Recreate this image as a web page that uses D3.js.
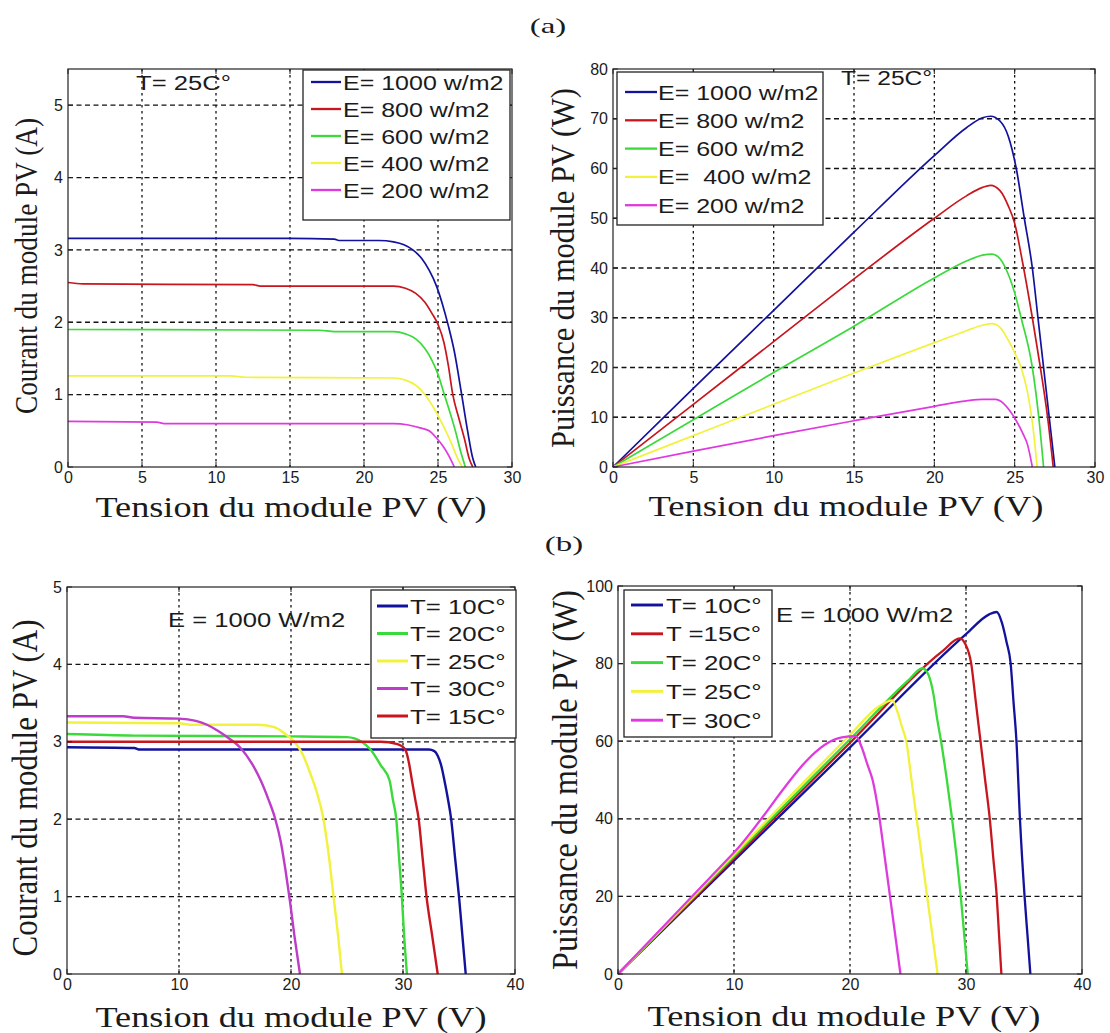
<!DOCTYPE html>
<html>
<head>
<meta charset="utf-8">
<script src="https://cdn.jsdelivr.net/npm/d3@7"></script>
<style>
  body { margin: 0; background: #fff; }
  svg text { fill: #1b1b1b; }
  .tick text { font-family: "Liberation Sans", Arial, sans-serif; font-size: 16px; }
</style>
</head>
<body>
<div id="chart"></div>
<script>
// ---------- data ----------
var panelLabels = ["(a)", "(b)"];
var xTitle = "Tension du module PV (V)";

// (a) left: I-V at T = 25 C, five irradiances  [V, I]
var iv1000 = [[0,3.16],[5,3.16],[10,3.16],[15,3.16],[18,3.15],[18.3,3.13],[21,3.13],[22,3.11],[22.7,3.07],[23.3,3.0],[23.9,2.88],[24.4,2.72],[24.9,2.5],[25.3,2.25],[25.7,1.95],[26.1,1.6],[26.6,1.0],[27.0,0.5],[27.35,0.12],[27.55,0]];
var iv800  = [[0,2.55],[1,2.53],[12.5,2.52],[13,2.5],[22,2.5],[22.8,2.47],[23.5,2.4],[24.1,2.28],[24.6,2.12],[25.0,1.97],[25.4,1.72],[25.7,1.4],[26.0,1.0],[26.4,0.68],[26.8,0.38],[27.1,0.12],[27.35,0]];
var iv600  = [[0,1.9],[17,1.89],[18,1.87],[22,1.87],[22.8,1.84],[23.5,1.77],[24.1,1.64],[24.6,1.47],[25.0,1.28],[25.4,1.02],[25.8,0.76],[26.2,0.48],[26.55,0.2],[26.85,0]];
var iv400  = [[0,1.26],[11,1.26],[12,1.24],[22,1.23],[22.8,1.2],[23.5,1.13],[24.0,1.03],[24.4,0.92],[24.9,0.75],[25.4,0.55],[25.9,0.33],[26.3,0.13],[26.65,0]];
var iv200  = [[0,0.63],[6,0.62],[6.5,0.6],[22,0.6],[23,0.58],[23.8,0.54],[24.4,0.5],[24.9,0.4],[25.4,0.27],[25.8,0.13],[26.1,0]];

// (a) right: P-V at T = 25 C  [V, P]
var pv1000 = [[0,0],[5,15.8],[10,31.5],[15,47.2],[20,62.6],[22,68.2],[23,70.2],[23.5,70.5],[24.1,69.5],[24.6,66.5],[25.1,60],[25.6,50],[26.1,40],[26.45,30],[26.8,20],[27.15,10],[27.5,0]];
var pv800  = [[0,0],[5,12.6],[10,25.2],[15,37.8],[20,50],[22,54.5],[23,56.2],[23.5,56.6],[24.1,55.5],[24.6,52.5],[25.0,49],[25.5,41],[26.1,30],[26.6,20],[27.05,10],[27.4,0]];
var pv600  = [[0,0],[5,9.5],[10,19],[15,28.3],[20,38],[22,41.4],[23,42.6],[23.6,42.8],[24.1,41.8],[24.5,39.5],[25.0,35],[25.4,30],[26.1,20],[26.5,10],[26.8,0]];
var pv400  = [[0,0],[5,6.3],[10,12.6],[15,18.9],[20,25],[22,27.4],[23,28.5],[23.6,28.8],[24.1,28],[24.6,25.5],[25.0,23],[25.4,20],[25.8,15],[26.1,9],[26.4,0]];
var pv200  = [[0,0],[5,3.2],[10,6.3],[15,9.3],[20,12.2],[22,13.3],[23,13.6],[23.8,13.6],[24.3,12.8],[24.7,11.3],[25.1,9.3],[25.5,6.8],[25.8,4.5],[26.1,0]];

// (b) left: I-V at E = 1000 W/m2, five temperatures
var iv10 = [[0,2.93],[6,2.92],[6.5,2.9],[32.3,2.9],[32.8,2.88],[33.1,2.82],[33.4,2.7],[33.7,2.5],[34.0,2.27],[34.3,2.0],[34.65,1.5],[35.0,1.0],[35.3,0.5],[35.6,0]];
var iv15 = [[0,3.0],[20,3.0],[28,3.0],[29.5,2.97],[30.2,2.9],[30.5,2.75],[30.8,2.5],[31.1,2.25],[31.4,2.0],[31.75,1.5],[32.1,1.0],[32.6,0.5],[33.1,0]];
var iv20 = [[0,3.1],[6,3.08],[20,3.07],[25,3.06],[26.3,3.0],[27.1,2.9],[28.0,2.7],[28.8,2.5],[29.1,2.25],[29.4,2.0],[29.65,1.5],[29.9,1.0],[30.1,0.5],[30.35,0]];
var iv25 = [[0,3.25],[10,3.24],[11,3.22],[17,3.22],[18.5,3.19],[19.5,3.1],[20.3,3.0],[21.0,2.85],[21.7,2.6],[22.3,2.35],[22.9,2.0],[23.4,1.5],[23.8,1.0],[24.2,0.5],[24.55,0]];
var iv30 = [[0,3.33],[5,3.33],[6,3.31],[10,3.3],[11.5,3.27],[12.5,3.22],[13.5,3.14],[14.5,3.04],[15.5,2.92],[16.5,2.72],[17.3,2.5],[18.0,2.25],[18.6,2.0],[19.1,1.7],[19.5,1.35],[19.9,0.95],[20.3,0.5],[20.6,0.2],[20.8,0]];

// (b) right: P-V at E = 1000 W/m2
var pv10 = [[0,0],[10,29.2],[20,58.4],[30,87.6],[32,92.7],[32.65,93.3],[33.1,90.5],[33.5,85.5],[33.85,80],[34.1,70],[34.35,60],[34.65,40],[35.05,20],[35.3,10],[35.55,0]];
var pv15 = [[0,0],[10,29.8],[20,59.6],[28,83.3],[29.45,86.5],[29.95,85],[30.45,80],[30.85,70],[31.25,60],[31.65,50],[32.05,40],[32.35,30],[32.65,20],[32.85,10],[33.05,0]];
var pv20 = [[0,0],[10,30.3],[20,60.5],[25,75.6],[26.25,78.8],[26.75,77.2],[27.2,72],[27.5,66],[27.85,60],[28.35,50],[28.8,40],[29.2,30],[29.55,20],[29.85,10],[30.15,0]];
var pv25 = [[0,0],[10,30.8],[20,61.6],[22.5,69],[23.65,70.5],[24.1,67.5],[24.5,63.5],[24.85,60],[25.3,50],[25.75,40],[26.2,30],[26.65,20],[27.1,10],[27.55,0]];
var pv30 = [[0,0],[10,31.3],[19.3,61],[20.5,61.3],[21.0,58.5],[21.5,54],[21.95,50],[22.55,40],[23.0,30],[23.45,20],[23.9,10],[24.35,0]];

// legends and annotations
var irrLabelsIV = ["E= 1000 w/m2", "E= 800 w/m2", "E= 600 w/m2", "E= 400 w/m2", "E= 200 w/m2"];
var irrLabelsPV = ["E= 1000 w/m2", "E= 800 w/m2", "E= 600 w/m2", "E=  400 w/m2", "E= 200 w/m2"];
var tempLabelsIV = ["T= 10C°", "T= 20C°", "T= 25C°", "T= 30C°", "T= 15C°"];
var tempLabelsPV = ["T= 10C°", "T =15C°", "T= 20C°", "T= 25C°", "T= 30C°"];
var tNote = "T= 25C°";
var eNote = "E = 1000 W/m2";

// tick values
var xTicks30 = [0, 5, 10, 15, 20, 25, 30];
var xTicks40 = [0, 10, 20, 30, 40];
var yTicksA5 = [0, 1, 2, 3, 4, 5];
var yTicksW80 = [0, 10, 20, 30, 40, 50, 60, 70, 80];
var yTicksW100 = [0, 20, 40, 60, 80, 100];

// colours
var cBlue = "#12129c", cRed = "#c8161e", cGreen = "#3ada3a", cYellow = "#f2f23e", cMag = "#df3adf", cPurple = "#bd3cc8";

// ---------- drawing ----------
var svg = d3.select("#chart").append("svg")
  .attr("width", 1110)
  .attr("height", 1033)
  .style("background", "#fff");

var sans = '"Liberation Sans", Arial, sans-serif';
var serif = '"Liberation Serif", "Times New Roman", serif';

// text stretched horizontally like the scanned figure
function wideText(parent, x, y, str, size, sx, family, anchor) {
  return parent.append("text")
    .attr("transform", `translate(${x},${y}) scale(${sx},1)`)
    .attr("text-anchor", anchor || "start")
    .style("font-family", family)
    .style("font-size", size + "px")
    .style("white-space", "pre")
    .text(str);
}

function drawPanel(p) {
  var g = svg.append("g");
  var x = d3.scaleLinear().domain(p.xDom).range([p.left, p.right]);
  var y = d3.scaleLinear().domain(p.yDom).range([p.bottom, p.top]);

  // grid
  g.selectAll(".vgrid")
    .data(p.xTicks.filter(d => d > p.xDom[0] && d < p.xDom[1]))
    .enter().append("line")
    .attr("x1", d => x(d)).attr("x2", d => x(d))
    .attr("y1", p.top).attr("y2", p.bottom)
    .attr("stroke", "#111").attr("stroke-width", 1.3)
    .attr("stroke-dasharray", "2.5,3.5");
  g.selectAll(".hgrid")
    .data(p.yTicks.filter(d => d > p.yDom[0] && d < p.yDom[1]))
    .enter().append("line")
    .attr("x1", p.left).attr("x2", p.right)
    .attr("y1", d => y(d)).attr("y2", d => y(d))
    .attr("stroke", "#111").attr("stroke-width", 1.3)
    .attr("stroke-dasharray", "5,3.5");

  // curves
  var line = d3.line()
    .x(d => x(d[0]))
    .y(d => y(d[1]))
    .curve(d3.curveMonotoneX);
  p.series.forEach(function(s) {
    g.append("path")
      .datum(s.values)
      .attr("d", line)
      .attr("fill", "none")
      .attr("stroke", s.color)
      .attr("stroke-width", p.lw)
      .attr("stroke-linejoin", "round");
  });

  // box
  g.append("rect")
    .attr("x", p.left).attr("y", p.top)
    .attr("width", p.right - p.left).attr("height", p.bottom - p.top)
    .attr("fill", "none").attr("stroke", "#222").attr("stroke-width", 1.2);

  // inner ticks on all four sides
  p.xTicks.forEach(function(v) {
    g.append("line").attr("x1", x(v)).attr("x2", x(v)).attr("y1", p.bottom).attr("y2", p.bottom - 5).attr("stroke", "#222");
    g.append("line").attr("x1", x(v)).attr("x2", x(v)).attr("y1", p.top).attr("y2", p.top + 5).attr("stroke", "#222");
  });
  p.yTicks.forEach(function(v) {
    g.append("line").attr("x1", p.left).attr("x2", p.left + 5).attr("y1", y(v)).attr("y2", y(v)).attr("stroke", "#222");
    g.append("line").attr("x1", p.right).attr("x2", p.right - 5).attr("y1", y(v)).attr("y2", y(v)).attr("stroke", "#222");
  });

  // tick labels through d3 axes
  var xAxis = g.append("g")
    .attr("transform", `translate(0, ${p.bottom})`)
    .call(d3.axisBottom(x).tickValues(p.xTicks).tickFormat(d3.format("d")).tickSize(0).tickPadding(5));
  xAxis.select(".domain").remove();
  xAxis.selectAll("text").attr("fill", "#333");

  var yAxis = g.append("g")
    .attr("transform", `translate(${p.left}, 0)`)
    .call(d3.axisLeft(y).tickValues(p.yTicks).tickFormat(d3.format("d")).tickSize(0).tickPadding(5));
  yAxis.select(".domain").remove();
  yAxis.selectAll("text").attr("fill", "#333");

  // legend
  var L = p.legend;
  var lg = g.append("g").attr("transform", `translate(${L.x}, ${L.y})`);
  lg.append("rect")
    .attr("width", L.w).attr("height", L.h)
    .attr("fill", "#fff").attr("stroke", "#222").attr("stroke-width", 1.3);
  p.series.forEach(function(s, i) {
    var ry = L.first + i * L.step;
    lg.append("line")
      .attr("x1", L.l0).attr("x2", L.l1)
      .attr("y1", ry).attr("y2", ry)
      .attr("stroke", s.color).attr("stroke-width", p.lw + 0.6);
    wideText(lg, L.tx, ry + 7.5, s.label, L.size, L.sx, sans);
  });

  // annotation
  wideText(g, p.note.x, p.note.y, p.note.text, p.note.size, p.note.sx, sans);

  // axis titles
  g.append("text")
    .attr("x", p.xTitle.cx).attr("y", p.xTitle.y)
    .attr("text-anchor", "middle")
    .attr("textLength", p.xTitle.len)
    .attr("lengthAdjust", "spacingAndGlyphs")
    .style("font-family", serif)
    .style("font-size", "29px")
    .text(xTitle);

  g.append("text")
    .attr("transform", `translate(${p.yTitle.x}, ${p.yTitle.cy}) rotate(-90) scale(1,1.2)`)
    .attr("text-anchor", "middle")
    .attr("textLength", p.yTitle.len)
    .attr("lengthAdjust", "spacingAndGlyphs")
    .style("font-family", serif)
    .style("font-size", p.yTitle.size + "px")
    .text(p.yTitle.text);
}

function makeSeries(vals, colors, labels) {
  return vals.map((v, i) => ({ values: v, color: colors[i], label: labels[i] }));
}

// (a) left
drawPanel({
  left: 68, right: 512, top: 69, bottom: 467,
  xDom: [0, 30], yDom: [0, 5.5], xTicks: xTicks30, yTicks: yTicksA5, lw: 1.7,
  series: makeSeries([iv1000, iv800, iv600, iv400, iv200], [cBlue, cRed, cGreen, cYellow, cMag], irrLabelsIV),
  legend: { x: 303, y: 70, w: 207, h: 150, first: 12, step: 27, l0: 8, l1: 38, tx: 40, size: 20, sx: 1.25 },
  note: { x: 136, y: 90, text: tNote, size: 20, sx: 1.28 },
  xTitle: { cx: 291, y: 517, len: 391 },
  yTitle: { x: 37, cy: 266, len: 296, size: 27, text: "Courant du module PV (A)" }
});

// (a) right
drawPanel({
  left: 613, right: 1095, top: 69, bottom: 467,
  xDom: [0, 30], yDom: [0, 80], xTicks: xTicks30, yTicks: yTicksW80, lw: 1.7,
  series: makeSeries([pv1000, pv800, pv600, pv400, pv200], [cBlue, cRed, cGreen, cYellow, cMag], irrLabelsPV),
  legend: { x: 617, y: 72, w: 206, h: 153, first: 20, step: 28.3, l0: 8, l1: 40, tx: 41, size: 20, sx: 1.25 },
  note: { x: 841, y: 85, text: tNote, size: 20, sx: 1.23 },
  xTitle: { cx: 846, y: 516, len: 395 },
  yTitle: { x: 574, cy: 268, len: 360, size: 28, text: "Puissance du module PV (W)" }
});

// (b) left
drawPanel({
  left: 67, right: 515, top: 587, bottom: 974,
  xDom: [0, 40], yDom: [0, 5], xTicks: xTicks40, yTicks: yTicksA5, lw: 2.4,
  series: makeSeries([iv10, iv20, iv25, iv30, iv15], [cBlue, cGreen, cYellow, cPurple, cRed], tempLabelsIV),
  legend: { x: 371, y: 590, w: 145, h: 148, first: 16, step: 27.5, l0: 6, l1: 37, tx: 39, size: 21, sx: 1.23 },
  note: { x: 168, y: 627, text: eNote, size: 21, sx: 1.22 },
  xTitle: { cx: 291, y: 1027, len: 391 },
  yTitle: { x: 37, cy: 788, len: 337, size: 30, text: "Courant du module PV (A)" }
});

// (b) right
drawPanel({
  left: 618, right: 1082, top: 586, bottom: 974,
  xDom: [0, 40], yDom: [0, 100], xTicks: xTicks40, yTicks: yTicksW100, lw: 2.3,
  series: makeSeries([pv10, pv15, pv20, pv25, pv30], [cBlue, cRed, cGreen, cYellow, cMag], tempLabelsPV),
  legend: { x: 624, y: 590, w: 148, h: 147, first: 15, step: 28.8, l0: 7, l1: 39, tx: 42, size: 21, sx: 1.23 },
  note: { x: 776, y: 622, text: eNote, size: 21, sx: 1.22 },
  xTitle: { cx: 844, y: 1026, len: 393 },
  yTitle: { x: 577, cy: 780, len: 380, size: 30, text: "Puissance du module PV (W)" }
});

// panel letters
wideText(svg, 548, 33, panelLabels[0], 22, 1.5, serif, "middle");
wideText(svg, 564, 551, panelLabels[1], 22, 1.5, serif, "middle");
</script>
</body>
</html>
